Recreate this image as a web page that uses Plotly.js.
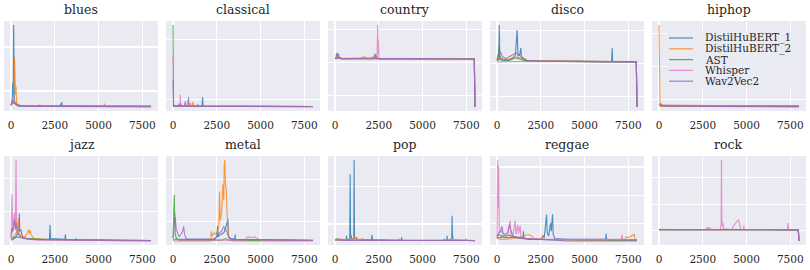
<!DOCTYPE html>
<html>
<head>
<meta charset="utf-8">
<script src="https://cdn.plot.ly/plotly-3.0.1.min.js"></script>
<style>html,body{margin:0;padding:0;background:#fff}#chart{width:810px;height:270px}</style>
</head>
<body>
<div id="chart"></div>
<script>
// ---------- categories ----------
const genres = ["blues", "classical", "country", "disco", "hiphop", "jazz", "metal", "pop", "reggae", "rock"];
const models = ["DistilHuBERT_1", "DistilHuBERT_2", "AST", "Whisper", "Wav2Vec2"];
const xTicks = [0, 2500, 5000, 7500];

// ---------- series values: [frame, value] pairs (arbitrary units, % of panel peak) ----------
const bluesD1 = [[0,2],[60,5],[100,30],[130,15],[150,100],[170,40],[190,10],[230,5],[300,3],[500,1],[2820,1],[2850,4],[2870,1],[2900,6],[2920,1],[8000,1]];
const bluesD2 = [[0,1],[80,4],[120,8],[160,20],[200,61],[220,30],[240,45],[260,15],[290,25],[320,5],[400,2],[600,1],[1620,1],[1650,3],[1680,1],[5310,1],[5340,4],[5370,1],[8000,1]];
const bluesAST = [[0,2],[50,6],[100,8],[150,5],[250,3],[400,1],[8000,0.5]];
const bluesWhisper = [[0,3],[60,8],[100,12],[150,10],[200,6],[300,3],[500,1],[8000,0.5]];
const bluesW2V = [[0,3],[80,6],[150,5],[250,4],[400,2],[600,1],[8000,0]];

const classicalD1 = [[0,1],[20,2],[40,1],[1400,1],[1420,3],[1440,1],[1660,1],[1690,12],[1720,1],[8000,0.5]];
const classicalD2 = [[0,1],[970,1],[990,5],[1010,1],[1100,2],[1120,6],[1150,4],[1180,1],[8000,0.5]];
const classicalAST = [[0,100],[15,10],[30,1],[8000,0.5]];
const classicalWhisper = [[0,63],[15,5],[30,1],[400,1],[418,15],[436,1],[650,1],[670,5],[690,1],[820,1],[840,8],[860,1],[8000,0.5]];
const classicalW2V = [[0,33],[15,3],[30,1],[300,1],[320,4],[340,1],[420,1],[440,4],[460,1],[680,1],[700,7],[720,1],[870,1],[890,12],[910,1],[8000,0]];

const countryD1 = [[0,59],[60,60],[80,65],[100,60],[130,66],[160,61],[200,65],[240,60],[400,59],[2250,59],[2280,65],[2310,60],[2350,64],[2400,59],[7960,58.5],[8000,0]];
const countryD2 = [[0,59],[100,62],[150,63],[250,61],[400,59],[1500,59],[1550,61],[1700,61],[1790,59],[2070,59],[2150,61],[2300,62],[2400,59],[7960,58.5],[8000,0]];
const countryAST = [[0,59],[200,60],[400,59],[7960,58.5],[8000,0]];
const countryWhisper = [[0,59],[400,59],[2400,59],[2440,100],[2460,65],[2480,82],[2510,60],[2600,59],[7960,58.5],[8000,0]];
const countryW2V = [[0,59],[200,60],[400,59],[2400,60],[2500,59],[7960,58.5],[8000,0]];

const discoD1 = [[0,56],[100,58],[132,100],[160,58],[300,57],[700,57],[900,60],[1050,63],[1150,94],[1200,62],[1300,64],[1360,72],[1400,60],[1700,56],[2500,56],[6550,55],[6580,72],[6610,55],[7960,55],[8000,0]];
const discoD2 = [[0,56],[100,60],[250,59],[500,58],[800,59],[1000,61],[1300,60],[1700,57],[2500,56.5],[7960,55.5],[8000,0]];
const discoAST = [[0,57],[80,65],[120,74],[160,62],[300,58],[700,57],[1100,60],[1500,57],[2000,56],[7960,55],[8000,0]];
const discoWhisper = [[0,55],[500,55.5],[1500,55.5],[3000,56],[7960,55],[8000,0]];
const discoW2V = [[0,58],[100,66],[200,67.5],[300,62],[500,59],[700,61],[900,64],[1100,66],[1300,63],[1700,57],[2500,56],[7960,55],[8000,0]];

const hiphopD1 = [[0,2],[100,1],[8000,1]];
const hiphopD2 = [[0,100],[30,20],[60,2],[100,1],[8000,1]];
const hiphopAST = [[0,2],[8000,1]];
const hiphopWhisper = [[0,2],[8000,1]];
const hiphopW2V = [[0,3],[80,4],[200,2],[500,1],[8000,0]];

const jazzD1 = [[0,1],[200,3],[300,6],[400,10],[450,15],[477,34],[500,12],[560,14],[620,8],[700,4],[900,3],[1500,2],[2200,2],[2230,19.6],[2260,3],[3080,2],[3110,8],[3140,2],[3700,1],[3730,3],[3760,1],[8000,0]];
const jazzD2 = [[0,2],[150,5],[250,8],[350,12],[420,28],[450,10],[600,6],[800,5],[950,10],[1000,14],[1050,9],[1100,13],[1145,8],[1300,3],[2000,2],[8000,0.5]];
const jazzAST = [[0,3],[300,5],[600,4],[1000,3],[2000,1.5],[8000,0.5]];
const jazzWhisper = [[0,3],[57,58],[100,10],[150,20],[200,35],[250,15],[286,100],[320,20],[380,12],[500,5],[800,3],[1500,1],[8000,0.5]];
const jazzW2V = [[0,5],[50,16],[100,12],[150,20],[200,27],[250,14],[300,22],[350,10],[450,8],[600,4],[1000,2],[8000,0.5]];

const metalD1 = [[0,2],[300,2],[2300,2],[2500,5],[2546,18],[2580,5],[2700,8],[2900,10],[3000,15],[3135,27],[3170,5],[3300,3],[3530,2],[3550,8],[3570,2],[8000,0.5]];
const metalD2 = [[0,1],[100,0],[2150,0],[2185,12],[2250,6],[2350,10],[2450,8],[2550,12],[2620,20],[2660,61],[2700,25],[2780,35],[2850,70],[2900,50],[2930,94],[2960,100],[3000,70],[3040,65],[3080,40],[3120,28],[3160,8],[3250,2],[3400,0],[8000,0]];
const metalAST = [[0,3],[60,40],[76,57],[95,20],[110,35],[130,8],[200,3],[400,1],[2800,1],[3000,3],[3200,1],[8000,0.5]];
const metalWhisper = [[0,2],[500,1],[4100,1],[4200,4],[4350,5],[4500,4],[4650,5],[4800,3],[5000,1],[8000,0.5]];
const metalW2V = [[0,4],[100,20],[133,29],[180,15],[250,10],[350,5],[450,8],[550,12],[610,18],[660,8],[750,3],[900,2],[2400,2],[2550,6],[2650,10],[2780,12],[2900,18],[3000,14],[3100,10],[3200,4],[3400,2],[8000,1]];

const popD1 = [[0,2],[640,2],[660,7],[680,2],[840,2],[867,82.5],[890,4],[920,8],[950,3],[1070,3],[1093,100],[1115,3],[1200,4],[1300,2],[2080,2],[2110,8],[2140,2],[3780,1],[3806,5],[3830,1],[6380,1],[6400,7],[6420,1],[6670,3],[6690,31.5],[6710,8],[6750,2],[8000,1]];
const popD2 = [[0,1],[900,2],[1030,3],[1100,6],[1150,3],[1225,5],[1300,2],[1600,3],[1700,1],[3600,1],[3650,3],[3700,1],[8000,1]];
const popAST = [[0,2],[100,3],[300,2],[8000,1]];
const popWhisper = [[0,2],[300,3],[800,1],[1200,3],[1500,2],[2500,1],[5000,1],[6800,2],[7000,1],[8000,1]];
const popW2V = [[0,2],[500,1],[6200,1],[6250,3],[6300,1],[7450,1],[7480,3],[7510,1],[8000,0.5]];

const reggaeD1 = [[0,3],[300,5],[600,4],[1000,5],[1480,4],[1512,12],[1540,4],[1800,2],[2500,2],[2646,7],[2700,4],[2835,32.6],[2870,10],[2950,6],[3062,22],[3100,12],[3175,33],[3210,8],[3300,3],[4000,2],[5500,2],[6210,2],[6237,9],[6265,2],[8000,1]];
const reggaeD2 = [[0,3],[300,2],[1000,3],[1600,7],[1800,8],[2000,6],[2080,3],[2500,2],[2640,6],[2700,2],[5000,1],[7300,1],[7370,5],[7500,4],[7700,6],[7840,8],[7880,2],[8000,1]];
const reggaeAST = [[0,4],[100,8],[300,6],[700,7],[1000,5],[1300,3],[2000,2],[8000,1]];
const reggaeWhisper = [[0,3],[38,100],[70,40],[95,93],[130,10],[250,12],[400,8],[600,6],[756,25],[790,8],[900,6],[1040,25],[1080,8],[1190,20],[1230,9],[1323,19],[1360,6],[1500,3],[3000,2],[7110,2],[7144,8],[7180,2],[8000,1]];
const reggaeW2V = [[0,5],[100,10],[200,12],[280,18],[350,9],[450,8],[600,10],[700,20],[800,13],[900,6],[1100,4],[1500,3],[2500,2],[4000,0],[8000,0]];

const rockD1 = [[0,14],[7960,13.7],[8000,0]];
const rockD2 = [[0,14],[7960,13.7],[8000,0]];
const rockAST = [[0,14],[7960,13.7],[8000,0]];
const rockWhisper = [[0,14.5],[500,14],[2700,14],[2760,17],[2800,14],[2900,17],[2950,14],[3500,14],[3550,20],[3570,100],[3590,27],[3620,18],[3650,22],[3700,15],[4150,14],[4240,18],[4350,22],[4450,24],[4550,26],[4600,20],[4650,16],[4700,14],[4830,14],[4850,19],[4870,14],[7340,14],[7370,22],[7400,14],[7960,13.7],[8000,0]];
const rockW2V = [[0,14],[7960,13.7],[8000,0]];

const seriesByGenre = {
  blues: [bluesD1, bluesD2, bluesAST, bluesWhisper, bluesW2V],
  classical: [classicalD1, classicalD2, classicalAST, classicalWhisper, classicalW2V],
  country: [countryD1, countryD2, countryAST, countryWhisper, countryW2V],
  disco: [discoD1, discoD2, discoAST, discoWhisper, discoW2V],
  hiphop: [hiphopD1, hiphopD2, hiphopAST, hiphopWhisper, hiphopW2V],
  jazz: [jazzD1, jazzD2, jazzAST, jazzWhisper, jazzW2V],
  metal: [metalD1, metalD2, metalAST, metalWhisper, metalW2V],
  pop: [popD1, popD2, popAST, popWhisper, popW2V],
  reggae: [reggaeD1, reggaeD2, reggaeAST, reggaeWhisper, reggaeW2V],
  rock: [rockD1, rockD2, rockAST, rockWhisper, rockW2V]
};

// ---------- style (not data) ----------
const colors = ["#1f77b4", "#ff7f0e", "#2ca02c", "#e377c2", "#9467bd"];
const gridVals = {
  blues: [19.5, 73.2], classical: [9.4, 82.4], country: [13.5, 54, 94.5], disco: [12.5, 53, 93.5],
  hiphop: [9.4, 49.6, 89.8], jazz: [36.7, 77.6], metal: [23.7, 76.4], pop: [21.3, 67.3],
  reggae: [21.3, 56.3, 91.3], rock: [12.5, 45.5, 78.5]
};
const FONT = "DejaVu Serif";
const W = 810, H = 270;
const colLeft = [4, 166, 328, 490, 652], colW = 154;
const rowTop = [21, 156], rowBot = [111, 245];

const traces = [];
const layout = {
  width: W, height: H, margin: {l: 0, r: 0, t: 0, b: 0},
  paper_bgcolor: "#ffffff", plot_bgcolor: "#EAEAF2",
  showlegend: false, font: {family: FONT, color: "#262626", size: 11},
  annotations: [], shapes: []
};

genres.forEach((g, gi) => {
  const r = Math.floor(gi / 5), c = gi % 5;
  const n = gi + 1;
  const xa = "x" + (n === 1 ? "" : n), ya = "y" + (n === 1 ? "" : n);
  let xmin = Infinity, xmax = -Infinity, ymin = Infinity, ymax = -Infinity;
  seriesByGenre[g].forEach((s, si) => {
    const xs = s.map(p => p[0]), ys = s.map(p => p[1]);
    xmin = Math.min(xmin, ...xs); xmax = Math.max(xmax, ...xs);
    ymin = Math.min(ymin, ...ys); ymax = Math.max(ymax, ...ys);
    traces.push({
      type: "scatter", mode: "lines", x: xs, y: ys, xaxis: xa, yaxis: ya,
      name: models[si], line: {color: colors[si], width: 1.1}, opacity: 0.8,
      hoverinfo: "skip"
    });
  });
  const xp = (xmax - xmin) * 0.05, yp = (ymax - ymin) * 0.05;
  const xd = [colLeft[c] / W, (colLeft[c] + colW) / W];
  const yd = [1 - rowBot[r] / H, 1 - rowTop[r] / H];
  layout["xaxis" + (n === 1 ? "" : n)] = {
    domain: xd, anchor: ya, range: [xmin - xp, xmax + xp],
    tickvals: xTicks, ticktext: xTicks.map(String),
    showgrid: true, gridcolor: "#ffffff", gridwidth: 1.2, zeroline: false, showline: false,
    ticks: "outside", ticklen: 4, tickcolor: "rgba(0,0,0,0)",
    tickfont: {family: FONT, size: 10.5, color: "#262626"}
  };
  layout["yaxis" + (n === 1 ? "" : n)] = {
    domain: yd, anchor: xa, range: [ymin - yp, ymax + yp],
    tickvals: gridVals[g], showticklabels: false,
    showgrid: true, gridcolor: "#ffffff", gridwidth: 1.2, zeroline: false, showline: false, ticks: ""
  };
  layout.annotations.push({
    text: g, xref: "paper", yref: "paper", x: (xd[0] + xd[1]) / 2, y: yd[1],
    xanchor: "center", yanchor: "bottom", yshift: 2, showarrow: false,
    font: {family: FONT, size: 12.5, color: "#262626"}
  });
});

// legend (drawn in the hiphop panel)
const lgLeft = 667, lgTop = 32, lgRight = 805, lgRow = 10.8;
layout.shapes.push({
  type: "rect", xref: "paper", yref: "paper", layer: "above",
  x0: lgLeft / W, x1: lgRight / W, y0: 1 - (lgTop + 5 * lgRow + 2) / H, y1: 1 - lgTop / H,
  fillcolor: "rgba(234,234,242,0.8)", line: {width: 0}
});
models.forEach((m, i) => {
  const yc = lgTop + 6 + i * lgRow;
  layout.shapes.push({
    type: "line", xref: "paper", yref: "paper", layer: "above",
    x0: 669 / W, x1: 693 / W, y0: 1 - yc / H, y1: 1 - yc / H,
    line: {color: colors[i], width: 1.2}, opacity: 0.8
  });
  layout.annotations.push({
    text: m, xref: "paper", yref: "paper", x: 703 / W, y: 1 - yc / H,
    xanchor: "left", yanchor: "middle", showarrow: false,
    font: {family: FONT, size: 10.5, color: "#262626"}
  });
});

Plotly.newPlot("chart", traces, layout, {staticPlot: true, displayModeBar: false});
</script>
</body>
</html>
